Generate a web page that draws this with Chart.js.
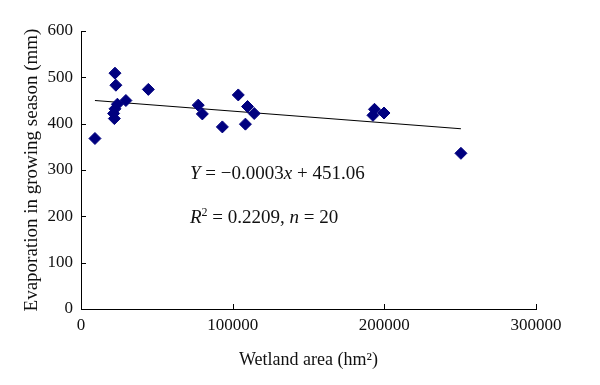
<!DOCTYPE html>
<html>
<head>
<meta charset="utf-8">
<script src="https://cdn.jsdelivr.net/npm/chart.js@4"></script>
<style>
  html, body { margin: 0; padding: 0; background: #fff; }
  #wrap { width: 600px; height: 385px; }
</style>
</head>
<body>
<div id="wrap"><canvas id="myChart"></canvas></div>
<script>
// wetland area (hm2) and evaporation (mm)
const areaX = [9200, 22400, 23000, 24000, 22400, 21500, 22000, 29600, 44400, 77300,
               80000, 93200, 103700, 108400, 109800, 114200, 192500, 193500, 199800, 250500];
const evapY = [368, 509, 483, 442, 432, 422, 411, 450, 474, 440,
               421, 393, 462, 399, 437, 422, 418, 431, 423, 336];
// ends of the fitted line as drawn
const fitX = [9200, 250500];
const fitY = [450, 389];
const xTicks = [0, 100000, 200000, 300000];
const yTicks = [0, 100, 200, 300, 400, 500, 600];

const serif = "'Liberation Serif', 'DejaVu Serif', serif";

const points = areaX.map((x, i) => ({ x: x, y: evapY[i] }));
const fit = fitX.map((x, i) => ({ x: x, y: fitY[i] }));

// ticks pointing into the plot, and the equation text
const extras = {
  id: 'extras',
  afterDraw(chart) {
    const c = chart.ctx;
    const xs = chart.scales.x, ys = chart.scales.y;
    const a = chart.chartArea;
    c.save();
    c.strokeStyle = '#000';
    c.lineWidth = 1;
    c.beginPath();
    xTicks.forEach(v => {
      const px = Math.round(xs.getPixelForValue(v)) + 0.5;
      c.moveTo(px, a.bottom); c.lineTo(px, a.bottom - 5);
    });
    yTicks.forEach(v => {
      const py = Math.round(ys.getPixelForValue(v)) + 0.5;
      c.moveTo(a.left, py); c.lineTo(a.left + 5, py);
    });
    c.stroke();

    c.fillStyle = '#111';
    c.textBaseline = 'alphabetic';
    const write = (parts, x, y) => {
      parts.forEach(p => {
        c.font = (p.i ? 'italic ' : '') + (p.s || 19) + 'px ' + serif;
        const dy = p.up ? -7 : 0;
        c.fillText(p.t, x, y + dy);
        x += c.measureText(p.t).width;
      });
    };
    write([{t: 'Y', i: true}, {t: ' = \u22120.0003'}, {t: 'x', i: true}, {t: ' + 451.06'}], 190, 179);
    write([{t: 'R', i: true}, {t: '2', s: 12, up: true}, {t: ' = 0.2209, '}, {t: 'n', i: true}, {t: ' = 20'}], 190, 223);
    c.restore();
  }
};

const ctx = document.getElementById('myChart');

new Chart(ctx, {
  type: 'scatter',
  data: {
    datasets: [{
      label: 'Evaporation',
      data: points,
      pointStyle: 'rectRot',
      pointRadius: 6,
      pointHoverRadius: 6,
      backgroundColor: '#00007f',
      borderColor: '#00007f',
      borderWidth: 1
    }, {
      label: 'Fit',
      type: 'line',
      data: fit,
      borderColor: '#000',
      borderWidth: 1.2,
      pointRadius: 0,
      fill: false
    }]
  },
  options: {
    responsive: true,
    maintainAspectRatio: false,
    animation: false,
    layout: { padding: { left: 17, right: 64, top: 31, bottom: 10 } },
    plugins: {
      legend: { display: false },
      tooltip: { enabled: false }
    },
    scales: {
      x: {
        type: 'linear',
        min: 0,
        max: 300000,
        afterBuildTicks: s => { s.ticks = xTicks.map(v => ({ value: v })); },
        afterFit: s => { s.height = 66; },
        border: { color: '#000', width: 1 },
        grid: { drawOnChartArea: false, drawTicks: false },
        ticks: {
          color: '#111',
          padding: 6,
          font: { family: serif, size: 17 },
          callback: v => String(v)
        },
        title: {
          display: true,
          text: 'Wetland area (hm\u00B2)',
          color: '#111',
          font: { family: serif, size: 18 },
          padding: { top: 4 }
        }
      },
      y: {
        min: 0,
        max: 600,
        afterBuildTicks: s => { s.ticks = yTicks.map(v => ({ value: v })); },
        afterFit: s => { s.width = 64; },
        border: { color: '#000', width: 1 },
        grid: { drawOnChartArea: false, drawTicks: false },
        ticks: {
          color: '#111',
          padding: 8,
          font: { family: serif, size: 17 }
        },
        title: {
          display: true,
          text: 'Evaporation in growing season (mm)',
          color: '#111',
          font: { family: serif, size: 19 },
          padding: { top: 4, bottom: 4 }
        }
      }
    }
  },
  plugins: [extras]
});
</script>
</body>
</html>
